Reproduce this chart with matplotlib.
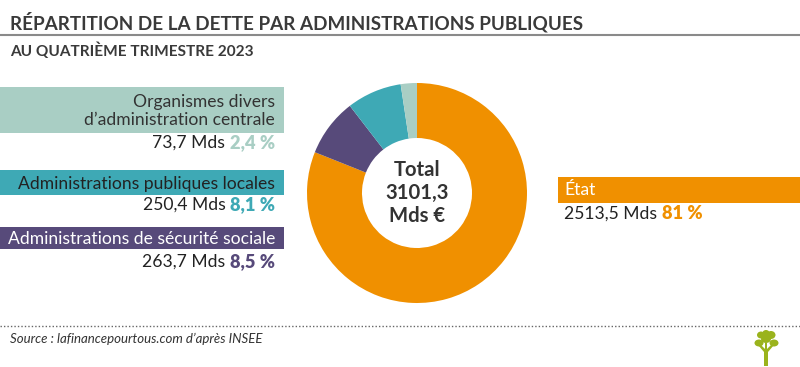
import matplotlib
matplotlib.use("Agg")
import matplotlib.pyplot as plt
from matplotlib.patches import Rectangle, Polygon, Ellipse
from matplotlib.lines import Line2D

# Données (Mds €, 4e trimestre 2023)
categories = ["État",
              "Administrations de sécurité sociale",
              "Administrations publiques locales",
              "Organismes divers\nd’administration centrale"]
montants = [2513.5, 263.7, 250.4, 73.7]
parts = [81, 8.5, 8.1, 2.4]
total = 3101.3
couleurs = ["#F09000", "#574A7A", "#3EA9B5", "#A9CEC4"]
couleurs_texte = ["white", "white", "#222222", "#333333"]

plt.rcParams['font.family'] = ['Lato', 'DejaVu Sans']

W, H = 800, 367
fig = plt.figure(figsize=(W / 100, H / 100), dpi=100)
fig.patch.set_facecolor("white")
rend = fig.canvas.get_renderer()


def px(x, y):
    # coordonnées en pixels (origine en haut à gauche) -> fraction de figure
    return x / W, 1 - y / H


def ajuste(t, largeur):
    # taille de police pour que le texte fasse la largeur voulue (px)
    w = t.get_window_extent(renderer=rend).width
    t.set_fontsize(t.get_fontsize() * largeur / w)
    return t.get_fontsize()


def fr(v):
    return f"{v:.1f}".replace(".", ",")


def pct(v):
    return f"{v:g}".replace(".", ",") + " %"


# Titre
t = fig.text(*px(10, 22), "RÉPARTITION DE LA DETTE PAR ADMINISTRATIONS PUBLIQUES",
             fontsize=17, fontweight="bold", color="#3a3a3a", va="center", ha="left")
ajuste(t, 575)
fig.add_artist(Line2D([0, 1], [1 - 35 / H] * 2, color="#8a8a8a", lw=1.5))
t = fig.text(*px(10, 51), "AU QUATRIÈME TRIMESTRE 2023",
             fontsize=11.5, fontweight="bold", color="#3a3a3a", va="center", ha="left")
ajuste(t, 243)

# taille du texte courant, calée sur la largeur d'une étiquette
t = fig.text(0, 0, categories[2], fontsize=13)
fs = ajuste(t, 256)
t.remove()

# Anneau
ax = fig.add_axes([307 / W, 1 - 303 / H, 220 / W, 220 / H])
ax.pie(montants, colors=couleurs, startangle=90, counterclock=False,
       wedgeprops=dict(width=0.5, edgecolor="none"))
ax.set_aspect("equal")
ax.set_xlim(-1, 1)
ax.set_ylim(-1, 1)
ax.axis("off")
ax.text(0, 0, "Total\n" + fr(total) + "\nMds €", ha="center", va="center",
        fontsize=fs + 2, fontweight="bold", color="#333333", linespacing=1.2)

# Étiquettes à gauche : (indice, haut bande, bas bande, y valeur)
gauche = [(3, 87, 133, 143), (2, 170, 195, 205), (1, 227, 249, 262)]
for i, y0, y1, yv in gauche:
    x0, y0f = px(0, y1)
    fig.add_artist(Rectangle((x0, y0f), 284 / W, (y1 - y0) / H,
                             transform=fig.transFigure, color=couleurs[i], lw=0))
    fig.text(*px(275, (y0 + y1) / 2 + 1), categories[i], ha="right", va="center",
             fontsize=fs, color=couleurs_texte[i], linespacing=1.2)
    t = fig.text(*px(275, yv), pct(parts[i]), ha="right", va="center",
                 fontsize=fs + 0.5, fontweight="heavy", color=couleurs[i])
    plt.annotate(fr(montants[i]) + " Mds ", xy=(0, 0.5), xycoords=t,
                 ha="right", va="center", fontsize=fs, color="#222222")

# Étiquette État à droite
x0, y0f = px(558, 203)
fig.add_artist(Rectangle((x0, y0f), (W - 558) / W, 26 / H,
                         transform=fig.transFigure, color=couleurs[0], lw=0))
fig.text(*px(564, 190), categories[0], ha="left", va="center",
         fontsize=fs, color="white")
t = fig.text(*px(564, 214), fr(montants[0]) + " Mds ", ha="left", va="center",
             fontsize=fs, color="#222222")
plt.annotate(pct(parts[0]), xy=(1, 0.5), xycoords=t, ha="left", va="center",
             fontsize=fs + 0.5, fontweight="heavy", color=couleurs[0])

# Pied
fig.add_artist(Line2D([0, 1], [1 - 326 / H] * 2, color="#666666", lw=1,
                      linestyle=(0, (1, 1.5))))
fig.text(*px(10, 339), "Source : lafinancepourtous.com d’après INSEE",
         ha="left", va="center", fontsize=9.5, style="italic", color="#333333")

# petit arbre (logo)
lax = fig.add_axes([754 / W, 1 - 366 / H, 26 / W, 36 / H])
lax.set_xlim(0, 26)
lax.set_ylim(0, 36)
lax.axis("off")
vert = "#9AB31C"
lax.add_patch(Polygon([(10, 0), (14, 0), (14, 14), (20, 21), (18, 22), (13, 17),
                       (13, 23), (11, 23), (11, 17), (6, 22), (4, 21), (10, 14)],
                      closed=True, color=vert, lw=0))
for cx, cy, rx, ry in [(5, 23, 4.5, 3.5), (12, 27, 5, 4), (20, 23, 4.5, 3.5),
                       (7, 31, 4, 3.5), (17, 31, 4.5, 4), (12, 33, 3.5, 3)]:
    lax.add_patch(Ellipse((cx, cy), 2 * rx, 2 * ry, color=vert, lw=0))

fig.savefig("out.png", dpi=100)
